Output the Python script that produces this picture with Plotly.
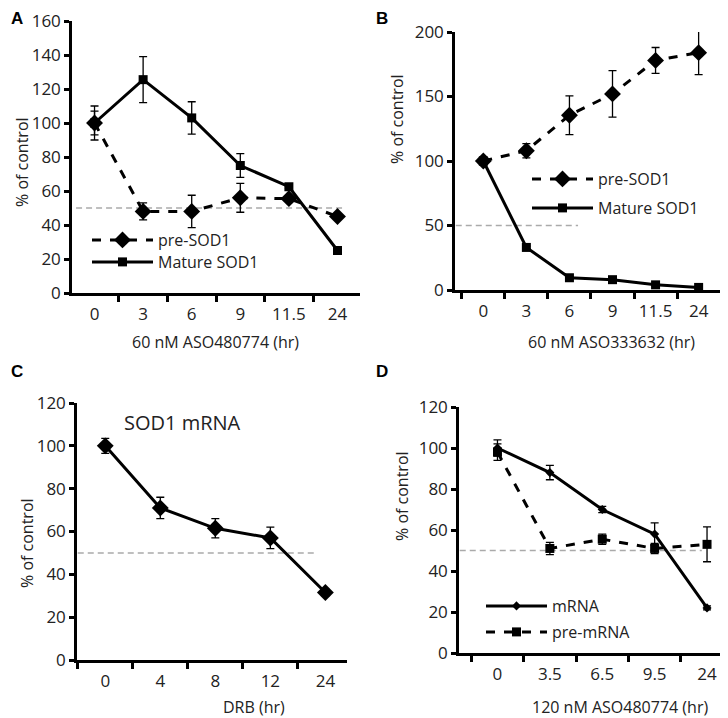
import plotly.graph_objects as go

# panel A: 60 nM ASO480774
a_time = ["0", "3", "6", "9", "11.5", "24"]
a_pre = [100, 48, 48, 56, 55.5, 45]
a_pre_err = [7, 5, 9.5, 8.5, 1.5, 1.5]
a_mature = [100, 125.5, 103, 75, 62.5, 25]
a_mature_err = [10, 13.5, 9.5, 7, 1, 2]

# panel B: 60 nM ASO333632
b_time = ["0", "3", "6", "9", "11.5", "24"]
b_pre = [100, 108, 135.5, 152, 178, 184]
b_pre_err = [3, 5.5, 15, 18, 10, 17]
b_mature = [100, 33, 9.5, 8, 4, 2]
b_mature_err = [1.5, 1, 1, 1, 1, 1]

# panel C: DRB
c_time = ["0", "4", "8", "12", "24"]
c_mrna = [100, 71, 61.5, 57, 31.5]
c_mrna_err = [3.5, 5, 4.5, 5, 1.5]

# panel D: 120 nM ASO480774
d_time = ["0", "3.5", "6.5", "9.5", "24"]
d_mrna = [100, 88, 70, 58, 22]
d_mrna_err = [4, 3.5, 1.5, 5.5, 1]
d_pre = [98, 51, 55.5, 51, 53]
d_pre_err = [4, 3, 2.5, 2.5, 8.5]

half_line = 50

# figure is drawn 8px in from the window edge
OFF = 8
W, H = 728 - OFF, 718 - OFF
FONT = "Open Sans"
TXT = "#222"


def px(x):
    return (x - OFF) / W


def py(y):
    return 1 - (y - OFF) / H


fig = go.Figure()


def err(arr):
    return dict(type="data", array=arr, color="black", thickness=1.3, width=4)


def add(x, y, e, name, xa, ya, dash, symbol, size, legend, show=True):
    fig.add_trace(go.Scatter(
        x=x, y=y, name=name, mode="lines+markers", xaxis=xa, yaxis=ya,
        line=dict(color="black", width=3, dash=dash),
        marker=dict(symbol=symbol, size=size, color="black"),
        error_y=err(e), legend=legend, showlegend=show))


add(a_time, a_pre, a_pre_err, "pre-SOD1", "x", "y", "dash", "diamond", 13, "legend")
add(a_time, a_mature, a_mature_err, "Mature SOD1", "x", "y", "solid", "square", 9, "legend2")
add(b_time, b_pre, b_pre_err, "pre-SOD1", "x2", "y2", "dash", "diamond", 13, "legend3")
add(b_time, b_mature, b_mature_err, "Mature SOD1", "x2", "y2", "solid", "square", 9, "legend4")
add(c_time, c_mrna, c_mrna_err, "SOD1 mRNA", "x3", "y3", "solid", "diamond", 13, "legend", False)
add(d_time, d_mrna, d_mrna_err, "mRNA", "x4", "y4", "solid", "diamond", 7, "legend5")
add(d_time, d_pre, d_pre_err, "pre-mRNA", "x4", "y4", "dash", "square", 9, "legend6")

domains = {
    "": ([px(72), px(360)], [py(293), py(21)], [0, 160], 20),
    "2": ([px(455), px(720)], [py(290), py(32)], [0, 200], 50),
    "3": ([px(77), px(347)], [py(660), py(403)], [0, 120], 20),
    "4": ([px(459), px(726)], [py(653), py(407)], [0, 120], 20),
}
layout = {}
for k, (xd, yd, yr, dt) in domains.items():
    layout["xaxis" + k] = dict(
        domain=xd, anchor="y" + k, type="category", showline=True, linecolor="black",
        linewidth=2.5, ticks="outside", tickson="boundaries", ticklen=6, tickwidth=2.5,
        tickcolor="black", showgrid=False, automargin=False, tickangle=0,
        ticklabelstandoff=4, tickfont=dict(size=17, color=TXT, family=FONT))
    layout["yaxis" + k] = dict(
        domain=yd, anchor="x" + k, range=yr, dtick=dt, showline=True, linecolor="black",
        linewidth=2.5, ticks="outside", ticklen=5, tickwidth=2.5, tickcolor="black",
        showgrid=False, zeroline=False, automargin=False,
        tickfont=dict(size=17, color=TXT, family=FONT))
fig.update_layout(**layout)

# dashed 50% reference lines
for xr, (x0, x1) in [("x", (-0.38, 5.15)), ("x2", (-0.64, 2.2)),
                     ("x3", (-0.5, 3.85)), ("x4", (-0.72, 3.9))]:
    fig.add_shape(type="line", xref=xr, yref="y" + xr[1:], x0=x0, x1=x1,
                  y0=half_line, y1=half_line, layer="below",
                  line=dict(color="#aaaaaa", width=1.5, dash="6px,4px"))


def note(text, x, y, size, family=FONT, angle=0, color=TXT, xanchor="center"):
    return dict(text=text, x=px(x), y=py(y), xref="paper", yref="paper",
                xanchor=xanchor, yanchor="middle", showarrow=False, textangle=angle,
                font=dict(size=size, family=family, color=color))


ann = []
for t, x, y in [("A", 8.5, 19), ("B", 374, 19), ("C", 8.5, 371), ("D", 374, 371)]:
    ann.append(note("<b>%s</b>" % t, x, y, 17, "Arial", color="black", xanchor="left"))
for t, x, y in [("60 nM ASO480774 (hr)", 216, 342), ("60 nM ASO333632 (hr)", 611, 342),
                ("DRB (hr)", 254, 707), ("120 nM ASO480774 (hr)", 620, 707)]:
    ann.append(note(t, x, y, 16))
for x, y in [(22, 162), (397, 119), (27, 543), (402, 496)]:
    ann.append(note("% of control", x, y, 16, angle=-90))
ann.append(note("SOD1 mRNA", 182, 422, 20))

leg = dict(bgcolor="rgba(0,0,0,0)", font=dict(size=16, family=FONT, color=TXT),
           itemwidth=61, xanchor="left", yanchor="middle")
fig.update_layout(
    template="none",
    annotations=ann,
    legend=dict(leg, x=px(87), y=py(240)),
    legend2=dict(leg, x=px(87), y=py(262)),
    legend3=dict(leg, x=px(527), y=py(179)),
    legend4=dict(leg, x=px(527), y=py(208)),
    legend5=dict(leg, x=px(481), y=py(606)),
    legend6=dict(leg, x=px(481), y=py(632)),
    width=W, height=H, margin=dict(l=0, r=0, t=0, b=0),
    paper_bgcolor="white", plot_bgcolor="white", showlegend=True)

fig.write_html("out.html")
